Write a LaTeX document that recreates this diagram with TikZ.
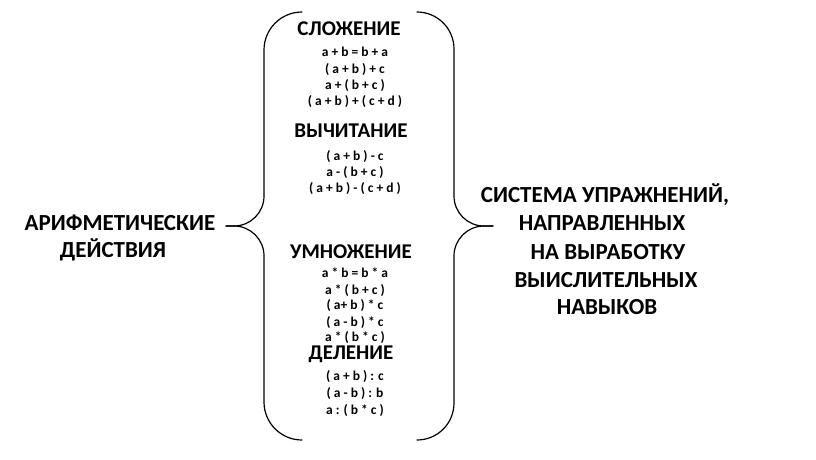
\documentclass[tikz,border=0pt]{standalone}
\usepackage{fontspec}
\setmainfont{Carlito}
\usepackage{tikz}
\usetikzlibrary{calc,positioning}

\tikzset{
  head/.style={anchor=base,inner sep=0pt,font=\fontsize{21}{26}\selectfont\bfseries},
  side/.style={anchor=base,inner sep=0pt,font=\fontsize{23}{28}\selectfont\bfseries},
  formula/.style={anchor=base,inner sep=0pt,font=\fontsize{13.5}{16}\selectfont\bfseries},
  brace/.style={line width=1.2pt,line cap=round}
}

\begin{document}
\begin{tikzpicture}[x=1pt,y=-1pt]
	\useasboundingbox (0,0) rectangle (816,459);
	% the big brace
	\coordinate (lcusp) at (226,226);
	\coordinate (rcusp) at (493,226);
	\draw[brace] (302,12) arc[start angle=90,end angle=180,radius=38pt] -- (264,196)
		arc[start angle=0,end angle=-90,radius=30pt] -- (lcusp);
	\draw[brace] (lcusp) -- (234,226) arc[start angle=90,end angle=0,radius=30pt] -- (264,402)
		arc[start angle=180,end angle=270,radius=38pt];
	\draw[brace] (417,12) arc[start angle=90,end angle=0,radius=37pt] -- (454,196)
		arc[start angle=180,end angle=270,radius=30pt] -- (rcusp);
	\draw[brace] (rcusp) -- (484,226) arc[start angle=90,end angle=180,radius=30pt] -- (454,403)
		arc[start angle=0,end angle=-90,radius=37pt];
	
	% left side
	\node[side] (ar1) at (120,230) {АРИФМЕТИЧЕСКИЕ};
	\node[side] (ar2) at (113,257.5) {ДЕЙСТВИЯ};
	
	% headings
	\node[head] (add) at (349,35) {СЛОЖЕНИЕ};
	\node[head] (sub) at (351,137) {ВЫЧИТАНИЕ};
	\node[head] (mul) at (351,258.5) {УМНОЖЕНИЕ};
	\node[head] (div) at (351,359.5) {ДЕЛЕНИЕ};
	
	% formulas
	\foreach \y/\t [count=\i] in {56.5/{a + b = b + a},73.5/{( a + b ) + c},
		89.5/{a + ( b + c )},105.5/{( a + b ) + ( c + d )}}
	\node[formula] (add\i) at (355,\y) {\t};
	\foreach \y/\t [count=\i] in {160.5/{( a + b ) - c},176.5/{a - ( b + c )},
		192.5/{( a + b ) - ( c + d )}}
	\node[formula] (sub\i) at (355,\y) {\t};
	\foreach \y/\t [count=\i] in {277.5/{a * b = b * a},294.5/{a * ( b + c )},
		309.5/{( a+ b ) * c},326.5/{( a - b ) *\ c},341.5/{a * ( b * c )}}
	\node[formula] (mul\i) at (355,\y) {\t};
	\foreach \y/\t [count=\i] in {380.5/{( a + b ) : c},397.5/{( a -\ b ) : b},
		414.5/{a : ( b * c )}}
	\node[formula] (div\i) at (355,\y) {\t};
	
	% right side
	\node[side] (sys1) at (605,202) {СИСТЕМА УПРАЖНЕНИЙ,};
	\node[side] (sys2) at (602,230) {НАПРАВЛЕННЫХ};
	\node[side] (sys3) at (608,259) {НА ВЫРАБОТКУ};
	\node[side] (sys4) at (606,287) {ВЫИСЛИТЕЛЬНЫХ};
	\node[side] (sys5) at (607,314) {НАВЫКОВ};
\end{tikzpicture}
\end{document}
